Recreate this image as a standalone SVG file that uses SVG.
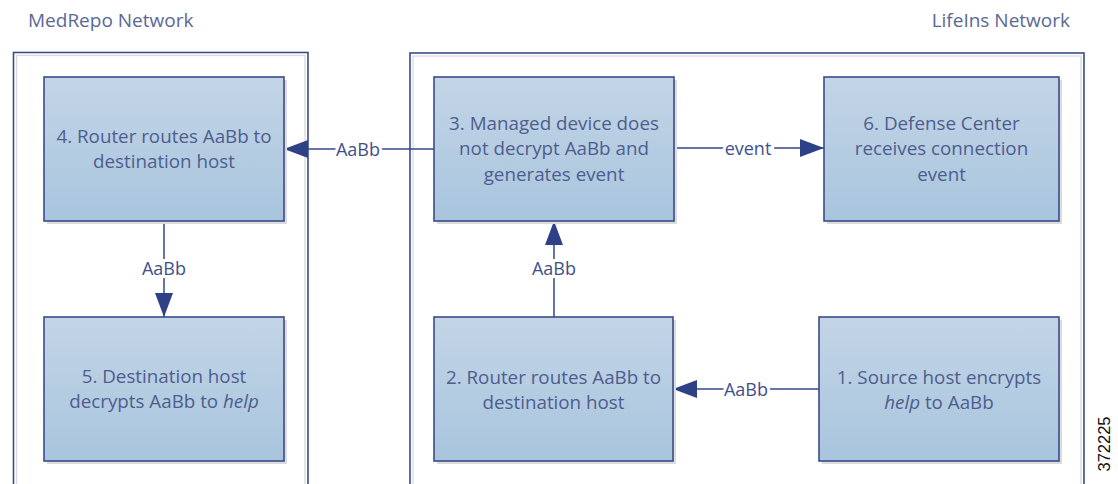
<svg xmlns="http://www.w3.org/2000/svg" width="1118" height="484" viewBox="0 0 1118 484">
<style>
.t{font-family:"Open Sans","Liberation Sans",sans-serif;font-size:18.8px;fill:#4f5d8e;text-anchor:middle}
.title{font-family:"Open Sans","Liberation Sans",sans-serif;font-size:19px;fill:#5a6895}
.lbl{font-family:"Open Sans","Liberation Sans",sans-serif;font-size:18px;fill:#3f5089;text-anchor:middle;dominant-baseline:central;paint-order:stroke;stroke:#fff;stroke-width:6px}
.box{fill:url(#g);stroke:#3a4c89;stroke-width:1.6}
.sh{fill:#dcdcdc}
.cont{fill:none;stroke:#3a4c89;stroke-width:1.6}
.cin{fill:none;stroke:#d4d7de;stroke-width:1.2}
.ln{fill:none;stroke:#34468a;stroke-width:1.5}
</style>
<defs>
<linearGradient id="g" x1="0" y1="0" x2="0" y2="1">
<stop offset="0" stop-color="#c3d5e6"/>
<stop offset="1" stop-color="#a8c5de"/>
</linearGradient>
<marker id="ah" markerUnits="userSpaceOnUse" markerWidth="26" markerHeight="20" refX="24" refY="9" orient="auto">
<polygon points="0,0 24,9 0,18" fill="#2f4186"/>
</marker>
</defs>
<text class="title" x="28" y="27">MedRepo Network</text>
<text class="title" x="1070" y="27" text-anchor="end">LifeIns Network</text>
<g id="medrepo-network">
<rect class="cont" x="13.5" y="52.5" width="294.5" height="450"/>
<rect class="cin" x="16.5" y="55.5" width="288.5" height="450"/>
</g>
<g id="lifeins-network">
<rect class="cont" x="410" y="53" width="674" height="450"/>
<rect class="cin" x="413" y="56" width="668" height="450"/>
</g>
<g id="connectors">
<path class="ln" d="M434,149 H284" marker-end="url(#ah)"/>
<path class="ln" d="M674,148 H824" marker-end="url(#ah)"/>
<path class="ln" d="M164,221 V317" marker-end="url(#ah)"/>
<path class="ln" d="M554,317 V221" marker-end="url(#ah)"/>
<path class="ln" d="M819,389 H673" marker-end="url(#ah)"/>
<text class="lbl" x="358" y="149">AaBb</text>
<text class="lbl" x="748" y="148">event</text>
<text class="lbl" x="164" y="268">AaBb</text>
<text class="lbl" x="554" y="268">AaBb</text>
<text class="lbl" x="746" y="389">AaBb</text>
</g>
<g id="node4">
<rect class="sh" x="47" y="80" width="240" height="144"/>
<rect class="box" x="44" y="77" width="240" height="144"/>
<text class="t" x="164" y="143">4. Router routes AaBb to</text>
<text class="t" x="164" y="168">destination host</text>
</g>
<g id="node5">
<rect class="sh" x="47" y="320" width="240" height="144"/>
<rect class="box" x="44" y="317" width="240" height="144"/>
<text class="t" x="164" y="383">5. Destination host</text>
<text class="t" x="164" y="408">decrypts AaBb to <tspan font-style="italic">help</tspan></text>
</g>
<g id="node3">
<rect class="sh" x="437" y="80" width="240" height="144"/>
<rect class="box" x="434" y="77" width="240" height="144"/>
<text class="t" x="554" y="130">3. Managed device does</text>
<text class="t" x="554" y="155">not decrypt AaBb and</text>
<text class="t" x="554" y="181">generates event</text>
</g>
<g id="node6">
<rect class="sh" x="827" y="80" width="235" height="144"/>
<rect class="box" x="824" y="77" width="235" height="144"/>
<text class="t" x="941.5" y="130">6. Defense Center</text>
<text class="t" x="941.5" y="155">receives connection</text>
<text class="t" x="941.5" y="181">event</text>
</g>
<g id="node2">
<rect class="sh" x="437" y="320" width="239" height="144"/>
<rect class="box" x="434" y="317" width="239" height="144"/>
<text class="t" x="553.5" y="384">2. Router routes AaBb to</text>
<text class="t" x="553.5" y="409">destination host</text>
</g>
<g id="node1">
<rect class="sh" x="822" y="320" width="240" height="144"/>
<rect class="box" x="819" y="317" width="240" height="144"/>
<text class="t" x="939" y="384">1. Source host encrypts</text>
<text class="t" x="939" y="409"><tspan font-style="italic">help</tspan> to AaBb</text>
</g>
<text x="1110" y="444" transform="rotate(-90 1110 444)" font-family="Liberation Sans,Arial,sans-serif" font-size="16.5" fill="#111" text-anchor="middle">372225</text>
</svg>
